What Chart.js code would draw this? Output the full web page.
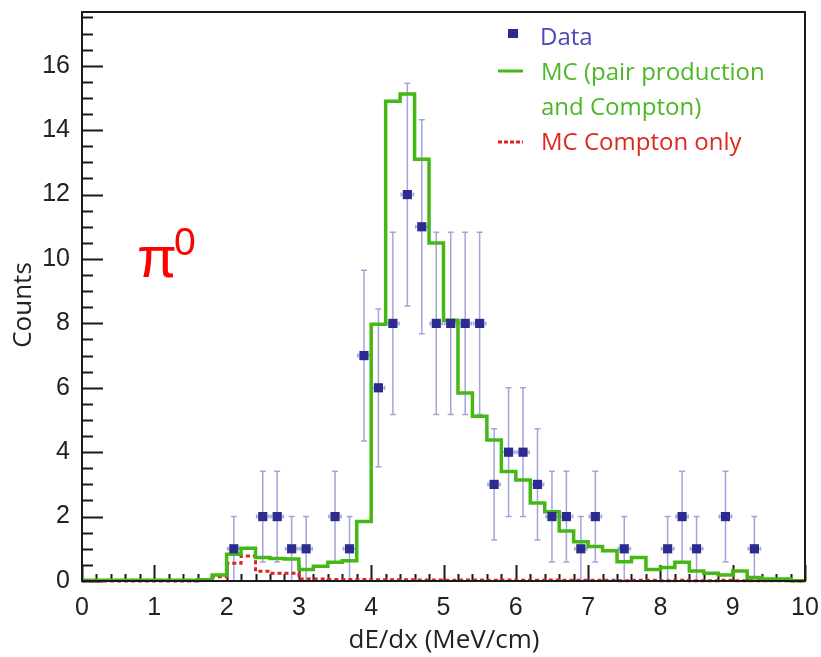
<!DOCTYPE html>
<html>
<head>
<meta charset="utf-8">
<script src="https://cdn.jsdelivr.net/npm/chart.js@4.4.1/dist/chart.umd.min.js"></script>
<style>
  html, body { margin: 0; padding: 0; background: #ffffff; }
  #wrap { width: 821px; height: 657px; position: relative; }
</style>
</head>
<body>
<div id="wrap"><canvas id="c" width="821" height="657"></canvas></div>
<script>
// ---------- data ----------
const binEdges = [0,0.2,0.4,0.6,0.8,1.0,1.2,1.4,1.6,1.8,2.0,2.2,2.4,2.6,2.8,3.0,3.2,3.4,3.6,3.8,
  4.0,4.2,4.4,4.6,4.8,5.0,5.2,5.4,5.6,5.8,6.0,6.2,6.4,6.6,6.8,7.0,7.2,7.4,7.6,7.8,
  8.0,8.2,8.4,8.6,8.8,9.0,9.2,9.4,9.6,9.8,10.0];
const mcAll = [0.02,0.02,0.02,0.02,0.02,0.02,0.02,0.02,0.04,0.19,
  0.83,1.02,0.73,0.70,0.68,0.36,0.46,0.58,0.63,1.85,
  7.97,14.9,15.12,13.1,10.5,8.1,5.84,5.12,4.38,3.4,
  3.14,2.42,2.15,1.55,1.22,1.07,0.94,0.60,0.73,0.36,
  0.42,0.58,0.31,0.24,0.19,0.31,0.11,0.06,0.06,0.01];
const mcCompton = [0.0,0.0,0.0,0.0,0.0,0.0,0.0,0.0,0.02,0.13,
  0.55,0.78,0.30,0.24,0.24,0.06,0.06,0.05,0.05,0.05,
  0.04,0.04,0.04,0.03,0.03,0.02,0.03,0.03,0.02,0.03,
  0.02,0.02,0.03,0.02,0.02,0.02,0.02,0.01,0.02,0.02,
  0.01,0.02,0.01,0.01,0.02,0.01,0.01,0.01,0.01,0.0];
const dataX = [2.1,2.5,2.7,2.9,3.1,3.5,3.7,3.9,4.1,4.3,4.5,4.7,4.9,5.1,5.3,5.5,5.7,5.9,6.1,6.3,6.5,6.7,6.9,7.1,7.5,8.1,8.3,8.5,8.9,9.3];
const dataY = [1,2,2,1,1,2,1,7,6,8,12,11,8,8,8,8,3,4,4,3,2,2,1,2,1,1,2,1,2,1];
const dataErr = [1,1.41,1.41,1,1,1.41,1,2.65,2.45,2.83,3.46,3.32,2.83,2.83,2.83,2.83,1.73,2,2,1.73,1.41,1.41,1,1.41,1,1,1.41,1,1.41,1];
const xTickLabels = [0,1,2,3,4,5,6,7,8,9,10];
const yTickLabels = [0,2,4,6,8,10,12,14,16];
const legendLabels = ['Data', 'MC (pair production', 'and Compton)', 'MC Compton only'];

// ---------- helpers ----------
function histPoints(vals) {
  const pts = vals.map((v, i) => ({ x: binEdges[i], y: v }));
  pts.push({ x: binEdges[binEdges.length - 1], y: vals[vals.length - 1] });
  return pts;
}
const GREEN = '#45b816';
const RED = '#dd2222';
const NAVY = '#2c2c8f';
const LAV = '#a4a4dc';

const errorBars = {
  id: 'errorBars',
  beforeDatasetsDraw(chart) {
    const { ctx, scales: { x, y } } = chart;
    ctx.save();
    ctx.strokeStyle = LAV;
    ctx.lineWidth = 1.5;
    for (let i = 0; i < dataX.length; i++) {
      const px = x.getPixelForValue(dataX[i]);
      const py = y.getPixelForValue(dataY[i]);
      const lo = y.getPixelForValue(Math.max(0, dataY[i] - dataErr[i]));
      const hi = y.getPixelForValue(dataY[i] + dataErr[i]);
      const xl = x.getPixelForValue(dataX[i] - 0.085);
      const xr = x.getPixelForValue(dataX[i] + 0.085);
      ctx.beginPath();
      ctx.moveTo(px, lo); ctx.lineTo(px, hi);
      ctx.moveTo(px - 3, lo); ctx.lineTo(px + 3, lo);
      ctx.moveTo(px - 3, hi); ctx.lineTo(px + 3, hi);
      ctx.moveTo(xl, py); ctx.lineTo(xr, py);
      ctx.moveTo(xl, py - 2); ctx.lineTo(xl, py + 2);
      ctx.moveTo(xr, py - 2); ctx.lineTo(xr, py + 2);
      ctx.stroke();
    }
    ctx.restore();
  }
};

const frameAndTicks = {
  id: 'frameAndTicks',
  beforeDatasetsDraw(chart) {
    const { ctx, chartArea: a, scales: { x, y } } = chart;
    ctx.save();
    ctx.strokeStyle = '#1a1a1a';
    ctx.lineWidth = 2;
    ctx.beginPath();
    for (let k = 0; k <= 50; k++) {
      const v = k * 0.2;
      const px = Math.round(x.getPixelForValue(v)) + 0.5;
      const len = (k % 5 === 0) ? 16 : 7;
      ctx.moveTo(px, a.bottom); ctx.lineTo(px, a.bottom - len);
    }
    for (let k = 0; k <= 35; k++) {
      const v = k * 0.5;
      const py = Math.round(y.getPixelForValue(v)) + 0.5;
      if (py < a.top) continue;
      const len = (k % 4 === 0) ? 21 : 11;
      ctx.moveTo(a.left, py); ctx.lineTo(a.left + len, py);
    }
    ctx.stroke();
    ctx.restore();
  },
  afterDraw(chart) {
    const { ctx, chartArea: a } = chart;
    ctx.save();
    ctx.strokeStyle = '#1a1a1a';
    ctx.lineWidth = 2;
    ctx.strokeRect(a.left, a.top, a.right - a.left, a.bottom - a.top);

    // axis titles
    ctx.fillStyle = '#222';
    ctx.font = '26px "Open Sans"';
    ctx.textAlign = 'center';
    ctx.textBaseline = 'alphabetic';
    ctx.fillText('dE/dx (MeV/cm)', 444, 648);
    ctx.save();
    ctx.translate(31, 305);
    ctx.rotate(-Math.PI / 2);
    ctx.fillText('Counts', 0, 0);
    ctx.restore();

    // pi0 label
    ctx.fillStyle = '#ff0000';
    ctx.textAlign = 'left';
    ctx.font = '58px "Liberation Sans"';
    ctx.fillText('\u03C0', 137, 277);
    ctx.font = '39px "Liberation Sans"';
    ctx.fillText('0', 174, 255);

    // legend
    ctx.font = '24px "Open Sans"';
    ctx.fillStyle = NAVY;
    ctx.fillRect(508, 29, 10, 9);
    ctx.fillStyle = '#4a4ab8';
    ctx.fillText(legendLabels[0], 540, 45);
    ctx.strokeStyle = GREEN;
    ctx.lineWidth = 3;
    ctx.beginPath(); ctx.moveTo(498, 71); ctx.lineTo(523, 71); ctx.stroke();
    ctx.fillStyle = '#4cb828';
    ctx.fillText(legendLabels[1], 541, 80);
    ctx.fillText(legendLabels[2], 541, 115);
    ctx.strokeStyle = RED;
    ctx.setLineDash([4, 2]);
    ctx.beginPath(); ctx.moveTo(498, 142); ctx.lineTo(523, 142); ctx.stroke();
    ctx.setLineDash([]);
    ctx.fillStyle = '#dc2a1e';
    ctx.fillText(legendLabels[3], 541, 150);
    ctx.restore();
  }
};

new Chart(document.getElementById('c'), {
  type: 'scatter',
  data: {
    datasets: [
      {
        label: 'Data',
        data: dataX.map((v, i) => ({ x: v, y: dataY[i] })),
        pointStyle: 'rect',
        pointRadius: 6.5,
        pointHoverRadius: 6.5,
        backgroundColor: NAVY,
        borderColor: NAVY,
        borderWidth: 0,
        showLine: false
      },
      {
        label: 'MC (pair production and Compton)',
        data: histPoints(mcAll),
        showLine: true,
        stepped: true,
        borderColor: GREEN,
        borderWidth: 3.5,
        pointRadius: 0,
        fill: false,
        clip: false
      },
      {
        label: 'MC Compton only',
        data: histPoints(mcCompton),
        showLine: true,
        stepped: true,
        borderColor: RED,
        borderWidth: 3,
        borderDash: [4, 3],
        pointRadius: 0,
        fill: false,
        clip: false
      }
    ]
  },
  options: {
    responsive: false,
    animation: false,
    events: [],
    layout: { padding: { top: 12, right: 16, left: 0, bottom: 0 } },
    plugins: { legend: { display: false }, tooltip: { enabled: false }, title: { display: false } },
    scales: {
      x: {
        type: 'linear',
        min: 0, max: 10,
        grid: { display: false, drawTicks: false },
        border: { display: false },
        afterBuildTicks(s) { s.ticks = xTickLabels.map(v => ({ value: v })); },
        afterFit(s) { s.height = 76; s.paddingLeft = 0; s.paddingRight = 0; },
        ticks: {
          padding: 12,
          maxRotation: 0,
          autoSkip: false,
          color: '#222',
          font: { family: '"Liberation Sans"', size: 25 },
          callback: (v) => String(v)
        }
      },
      y: {
        type: 'linear',
        min: 0, max: 17.67,
        grid: { display: false, drawTicks: false },
        border: { display: false },
        afterBuildTicks(s) { s.ticks = yTickLabels.map(v => ({ value: v })); },
        afterFit(s) { s.width = 82; s.paddingTop = 0; s.paddingBottom = 0; },
        ticks: {
          padding: 12,
          autoSkip: false,
          color: '#222',
          font: { family: '"Liberation Sans"', size: 25 },
          callback: (v) => String(v)
        }
      }
    }
  },
  plugins: [errorBars, frameAndTicks]
});
</script>
</body>
</html>
